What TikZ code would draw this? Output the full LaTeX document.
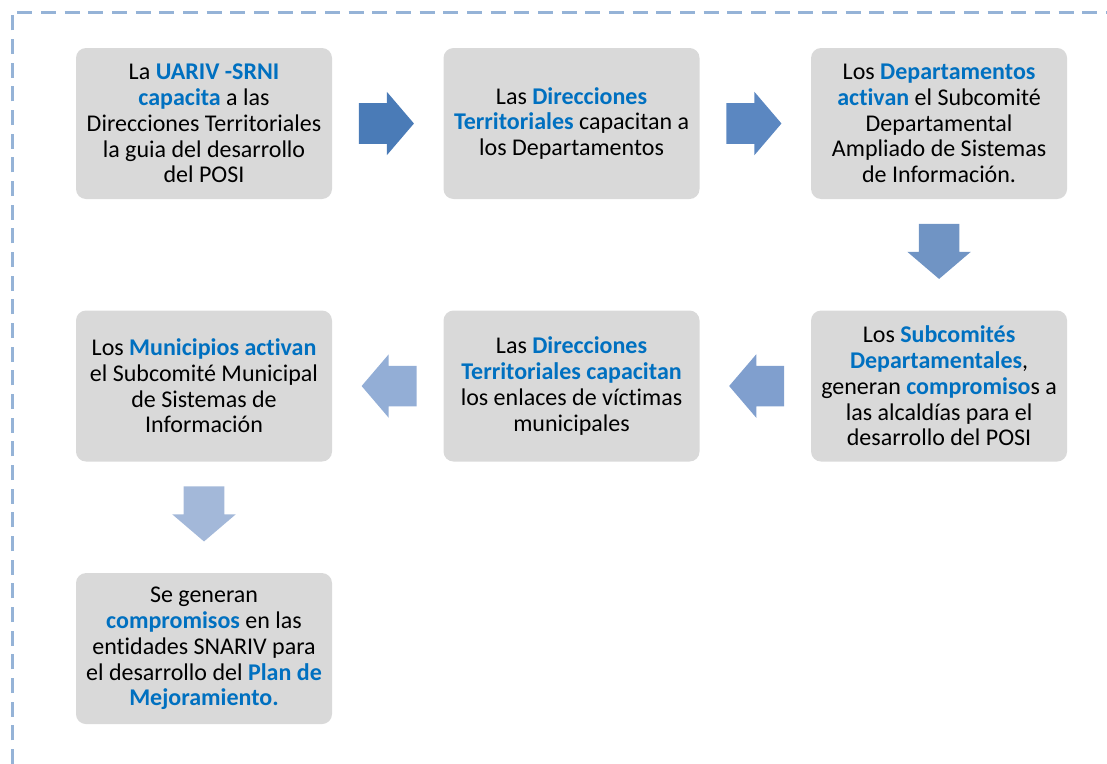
\documentclass[tikz,border=0pt]{standalone}
\usepackage{fontspec}
\setmainfont{Carlito}[Ligatures=NoCommon]
\usetikzlibrary{positioning,shapes.arrows,calc}

\definecolor{boxgray}{HTML}{D9D9D9}
\definecolor{textblue}{HTML}{0070C0}
\definecolor{framecol}{HTML}{95B3D7}
\definecolor{arrowA}{HTML}{4A7BB7}
\definecolor{arrowB}{HTML}{5B87C1}
\definecolor{arrowC}{HTML}{7094C4}
\definecolor{arrowD}{HTML}{809FCE}
\definecolor{arrowE}{HTML}{93AED6}
\definecolor{arrowF}{HTML}{A3B8D9}
\newcommand{\hl}[1]{\textbf{\textcolor{textblue}{#1}}}

\begin{document}
\begin{tikzpicture}[x=0.75pt,y=-0.75pt]
		\tikzstyle{StepBox}    = [shape=rectangle, fill=boxgray, rounded corners=7.5pt, minimum width=192pt, minimum height=113.25pt, inner sep=0pt, align=center, font=\fontsize{18}{19.3}\selectfont]
		\tikzstyle{BlockArrow} = [single arrow, minimum height=41.25pt, single arrow head extend=8.6pt, single arrow tip angle=99, inner xsep=0pt, inner ysep=15pt]
		\tikzstyle{RightArrow} = [BlockArrow, xshift=-7.5pt]
		\tikzstyle{LeftArrow}  = [BlockArrow, shape border rotate=180, xshift=7.5pt]
		\tikzstyle{DownArrow}  = [BlockArrow, shape border rotate=270, inner xsep=15pt, inner ysep=0pt, yshift=9pt]
		
		\useasboundingbox (0,0) rectangle (1107,764);
		\draw[framecol, line width=2.25pt, dash pattern=on 11.25pt off 6.5pt] (12,764) -- (12,12) -- (1107,12);
		
		\node[StepBox] (UARIV) at (204,123.5) {La \hl{UARIV -SRNI}\\ \hl{capacita} a las\\ Direcciones Territoriales\\ la guia del desarrollo\\ del POSI};
		\node[StepBox, right=83.25pt of UARIV] (Direcciones) {Las \hl{Direcciones}\\ \hl{Territoriales} capacitan a\\ los Departamentos};
		\node[StepBox, right=83.25pt of Direcciones] (Departamentos) {Los \hl{Departamentos}\\ \hl{activan} el Subcomité\\ Departamental\\ Ampliado de Sistemas\\ de Información.};
		\node[StepBox, below=83.25pt of Departamentos] (Subcomites) {Los \hl{Subcomités}\\ \hl{Departamentales},\\ generan \hl{compromiso}s a\\ las alcaldías para el\\ desarrollo del POSI};
		\node[StepBox, left=83.25pt of Subcomites] (Enlaces) {Las \hl{Direcciones}\\ \hl{Territoriales capacitan}\\ los enlaces de víctimas\\ municipales};
		\node[StepBox, left=83.25pt of Enlaces] (Municipios) {Los \hl{Municipios activan}\\ el Subcomité Municipal\\ de Sistemas de\\ Información};
		\node[StepBox, below=83.25pt of Municipios] (Compromisos) {Se generan\\ \hl{compromisos} en las\\ entidades SNARIV para\\ el desarrollo del \hl{Plan de}\\ \hl{Mejoramiento.}};
		
		\node[RightArrow, fill=arrowA] (A1) at ($(UARIV.east)!0.5!(Direcciones.west)$) {};
		\node[RightArrow, fill=arrowB] (A2) at ($(Direcciones.east)!0.5!(Departamentos.west)$) {};
		\node[DownArrow, fill=arrowC] (A3) at ($(Departamentos.south)!0.5!(Subcomites.north)$) {};
		\node[LeftArrow, fill=arrowD] (A4) at ($(Subcomites.west)!0.5!(Enlaces.east)$) {};
		\node[LeftArrow, fill=arrowE] (A5) at ($(Enlaces.west)!0.5!(Municipios.east)$) {};
		\node[DownArrow, fill=arrowF] (A6) at ($(Municipios.south)!0.5!(Compromisos.north)$) {};
	\end{tikzpicture}
\end{document}
